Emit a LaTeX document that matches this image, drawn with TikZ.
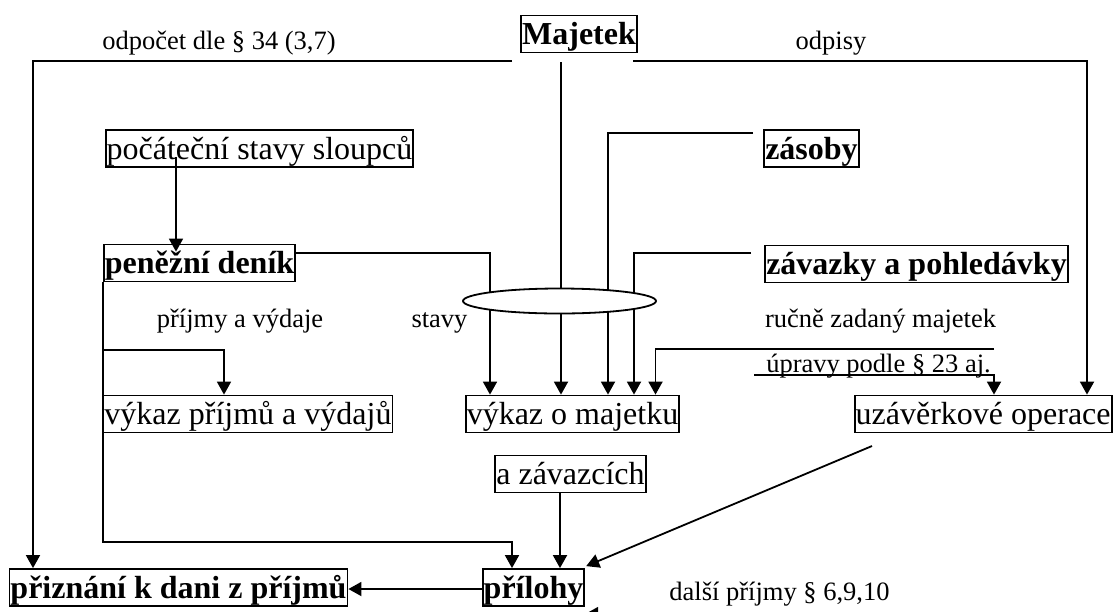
\documentclass[tikz,border=0pt]{standalone}
\usepackage{fontspec}
\setmainfont{Liberation Serif}
\usetikzlibrary{arrows.meta,shapes.geometric,calc}
\begin{document}
\begin{tikzpicture}[x=1pt,y=-1pt,
  line width=1.8pt,
  box/.style={draw, line width=1.8pt, inner xsep=1pt, inner ysep=0.5pt,
    text height=28.5pt, text depth=7.5pt, font=\fontsize{32}{38}\selectfont},
  bbox/.style={box, font=\fontsize{32}{38}\selectfont\bfseries},
  lbl/.style={anchor=base, inner sep=0pt, font=\fontsize{26.5}{30}\selectfont},
  arr/.style={-{Triangle[length=13pt,width=14pt]}},
  hubstyle/.style={draw, fill=white, ellipse, line width=1.8pt, inner sep=0pt,
    minimum width=193pt, minimum height=25pt}
]
\useasboundingbox (0,0) rectangle (1115,611);
\clip (0,0) rectangle (1115,611);

% boxes
\node[bbox] (maj) at (579,34) {Majetek};
\node[box]  (poc) at (259.5,148.5) {počáteční stavy sloupců};
\node[bbox] (zas) at (811.5,148.5) {zásoby};
\node[bbox] (pen) at (199.5,263) {peněžní deník};
\node[bbox] (zav) at (916.5,264) {závazky a pohledávky};
\node[box]  (vpv) at (248,414) {výkaz příjmů a výdajů};
\node[box]  (vom) at (572.5,414) {výkaz o majetku};
\node[box, anchor=east] (uzo) at (1112.5,414) {uzávěrkové operace};
\node[box]  (azv) at (570.5,474) {a závazcích};
\node[bbox] (pdp) at (178.5,587.5) {přiznání k dani z příjmů};
\node[bbox] (pri) at (533.5,587.5) {přílohy};

% free labels
\node[lbl] (odp)  at (219,49)    {odpočet dle § 34 (3,7)};
\node[lbl] (ods)  at (831,49)    {odpisy};
\node[lbl] (pav)  at (240,327)   {příjmy a výdaje};
\node[lbl] (stv)  at (439.5,327) {stavy};
\node[lbl] (ruc)  at (880.5,327) {ručně zadaný majetek};
\node[lbl] (upr)  at (878.5,372) {úpravy podle § 23 aj.};
\node[lbl] (dal)  at (779.5,600) {další příjmy § 6,9,10};

% start points of the connectors
\coordinate (mL)   at (512,61);
\coordinate (mR)   at (633,61);
\coordinate (mC)   at (561,62);
\coordinate (pocS) at (176,157);
\coordinate (zasL) at (753,133);
\coordinate (zavL) at (751,253);
\coordinate (rucR) at (994,349);
\coordinate (uprL) at (754,375);
\coordinate (jn)   at (104,542);
\coordinate (uzoS) at (872,446);

% connectors
\draw[arr] (mL) -| (pdp.north -| 33,0);
\draw[arr] (mR) -| (uzo.north -| 1087,0);
\draw[arr] (mC) -- (vom.north -| mC);
\draw[arr] (pocS) -- ($(pen.north -| pocS)+(0,8)$);
\draw[arr] (pen.east |- 0,253) -| (vom.north -| 490,0);
\draw[arr] (zasL) -| (vom.north -| 608,0);
\draw[arr] (zavL) -| (vom.north -| 634,0);
\draw[arr] (rucR) -| (vom.north -| 655.5,0);
\draw[arr] (uprL) -| (uzo.north -| 994,0);
\node[hubstyle] (hub) at (559.5,301) {};

\draw[arr] (pen.south west) -- (pen.south west |- jn) -| (pri.north -| 512,0);
\draw[arr] (pen.south west |- 0,350) -| (vpv.north -| 224,0);
\draw[arr] (azv.south -| 560,0) -- (pri.north -| 560,0);
\draw[arr] (uzoS) -- ($(pri.north east)+(1,-2)$);
\draw[arr] (pri.west |- 0,589) -- (pdp.east |- 0,589);
\draw[arr] (dal.west |- 0,614) -- (pri.east |- 0,614);
\end{tikzpicture}
\end{document}
